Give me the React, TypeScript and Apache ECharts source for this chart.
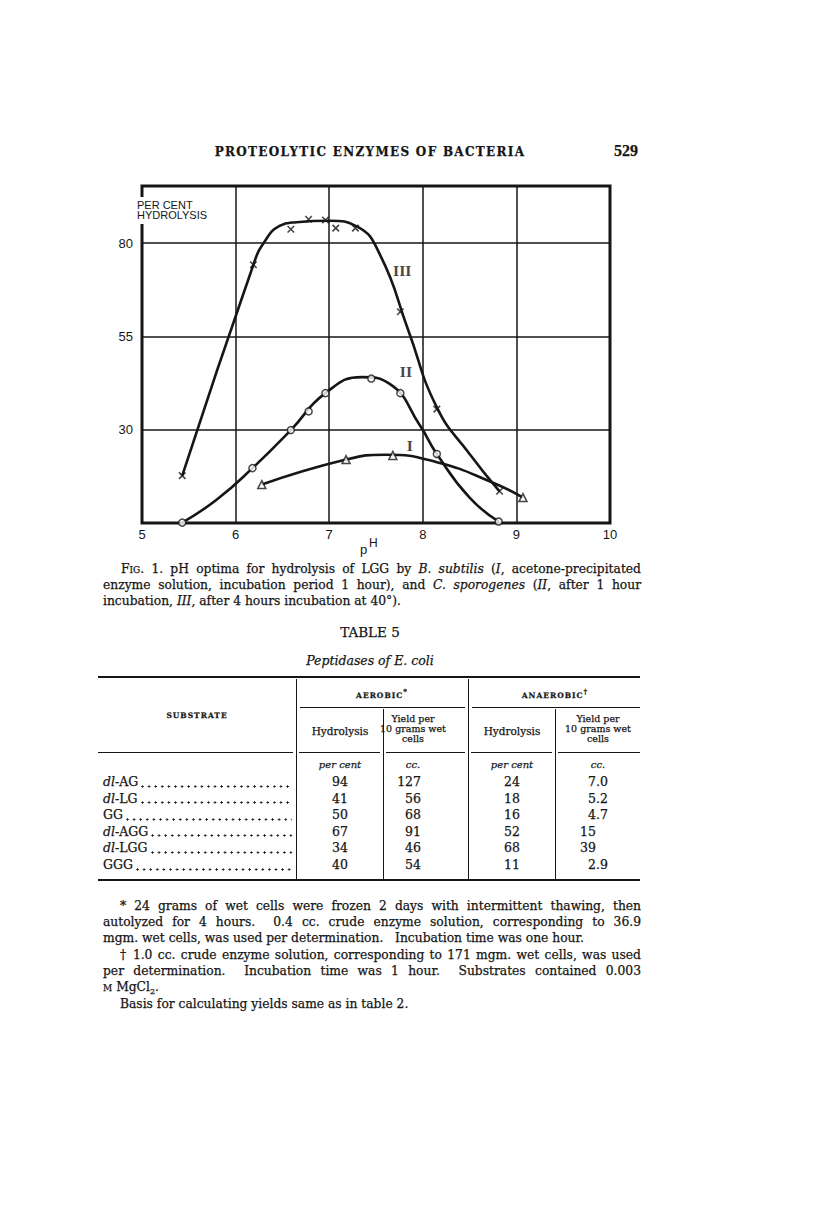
import React, { useEffect, useRef } from "react";
import * as echarts from "echarts";

// ---------- chart data ----------
const phTicks = [5, 6, 7, 8, 9, 10];
const hydrolysisTickLabels = [30, 55, 80];

// Curve III (C. sporogenes, 4 h) – drawn curve and observed points (x)
const curveIII = [
  [5.43, 17.7], [6.19, 74.2], [6.3, 80.0], [6.47, 84.6], [6.65, 85.6], [7.0, 86.0],
  [7.3, 84.4], [7.55, 76.5], [7.84, 57.0], [8.15, 36.0], [8.5, 23.5], [8.82, 13.5],
];
const pointsIII = [
  [5.43, 17.7], [6.19, 74.2], [6.59, 83.7], [6.78, 86.4], [6.96, 86.2], [7.07, 84.0],
  [7.28, 84.0], [7.76, 61.6], [8.15, 35.5], [8.82, 13.5],
];

// Curve II (C. sporogenes, 1 h) – circles
const curveII = [
  [5.43, 5.1], [5.8, 11.3], [6.18, 19.7], [6.59, 29.9], [6.96, 39.8], [7.35, 44.1],
  [7.65, 42.2], [7.97, 31.1], [8.15, 23.5], [8.5, 11.8], [8.81, 5.4],
];
const pointsII = [
  [5.43, 5.1], [6.18, 19.7], [6.59, 29.9], [6.78, 34.9], [6.96, 39.8], [7.45, 43.7],
  [7.76, 39.8], [8.15, 23.5], [8.81, 5.4],
];

// Curve I (B. subtilis) – triangles
const curveI = [
  [6.28, 15.3], [7.18, 22.0], [7.6, 23.3], [8.15, 21.3], [8.75, 15.8], [9.07, 11.8],
];
const pointsI = [[6.28, 15.3], [7.18, 22.0], [7.68, 23.1], [9.07, 11.8]];

const curveLabels = [
  { name: "III", value: [7.78, 72.4] },
  { name: "II", value: [7.82, 45.4] },
  { name: "I", value: [7.86, 25.6] },
];

// ---------- table data ----------
const substratePrefix = ["dl-", "dl-", "", "dl-", "dl-", ""];
const substrateName = ["AG", "LG", "GG", "AGG", "LGG", "GGG"];
const aerobicHydrolysis = ["94", "41", "50", "67", "34", "40"];
const aerobicYield = ["127", "56", "68", "91", "46", "54"];
const anaerobicHydrolysis = ["24", "18", "16", "52", "68", "11"];
const anaerobicYield = ["7.0", "5.2", "4.7", "15", "39", "2.9"];

const SERIF = '"DejaVu Serif", "Liberation Serif", serif';
const TIMES = '"Liberation Serif", "DejaVu Serif", serif';
const SANS = '"Liberation Sans", "DejaVu Sans", sans-serif';
const INK = "#161616";
const STROKE = "0.25px #161616";

const CHART_LEFT = 90;
const CHART_TOP = 175;

function Chart() {
  const ref = useRef<HTMLDivElement>(null);
  useEffect(() => {
    if (!ref.current) return;
    const chart = echarts.init(ref.current, undefined, { renderer: "svg" });
    const lineBase = {
      type: "line",
      smooth: 0.5,
      showSymbol: false,
      lineStyle: { color: INK, width: 2.6 },
      z: 3,
      silent: true,
    };
    const markerBase = {
      type: "scatter",
      z: 5,
      silent: true,
      itemStyle: { color: "#fff", borderColor: INK, borderWidth: 1.5 },
    };
    chart.setOption({
      animation: false,
      grid: {
        left: 52,
        top: 11,
        width: 468,
        height: 337,
        show: true,
        borderColor: INK,
        borderWidth: 3,
      },
      xAxis: {
        type: "value",
        min: 5,
        max: 10,
        interval: 1,
        axisLine: { show: false },
        axisTick: { show: false },
        splitLine: { show: true, lineStyle: { color: INK, width: 1.5 } },
        axisLabel: {
          color: INK,
          fontFamily: SANS,
          fontSize: 13,
          margin: 5,
          formatter: (v: number) => (phTicks.includes(v) ? String(v) : ""),
        },
      },
      yAxis: {
        type: "value",
        min: 5,
        max: 95.3,
        interval: 25,
        axisLine: { show: false },
        axisTick: { show: false },
        splitLine: { show: true, lineStyle: { color: INK, width: 1.5 } },
        axisLabel: {
          color: INK,
          fontFamily: SANS,
          fontSize: 13,
          margin: 9,
          formatter: (v: number) =>
            hydrolysisTickLabels.includes(Math.round(v)) ? String(Math.round(v)) : "",
        },
      },
      series: [
        { ...lineBase, name: "III", data: curveIII },
        { ...lineBase, name: "II", data: curveII },
        { ...lineBase, name: "I", data: curveI },
        {
          ...markerBase,
          name: "III points",
          data: pointsIII,
          symbol: "path://M0 0L10 10M10 0L0 10",
          symbolSize: 6.5,
          itemStyle: { color: "none", borderColor: INK, borderWidth: 1.6 },
        },
        { ...markerBase, name: "II points", data: pointsII, symbol: "circle", symbolSize: 7 },
        { ...markerBase, name: "I points", data: pointsI, symbol: "triangle", symbolSize: 8 },
        {
          type: "scatter",
          name: "labels",
          data: curveLabels,
          symbolSize: 0,
          silent: true,
          z: 6,
          label: {
            show: true,
            position: "inside",
            formatter: (p: any) => p.name,
            color: INK,
            fontFamily: SERIF,
            fontSize: 13,
            fontWeight: "bold",
          },
        },
      ],
      graphic: [
        {
          type: "text",
          left: 46,
          top: 22,
          z: 100,
          style: {
            text: "PER CENT\nHYDROLYSIS",
            fontFamily: SANS,
            fontSize: 11,
            lineHeight: 10,
            fill: INK,
            backgroundColor: "#fff",
            padding: [3, 1, 4, 1],
          },
        },
        {
          type: "text",
          x: 270,
          y: 374,
          z: 100,
          style: { text: "p", fontFamily: SANS, fontSize: 13, fill: INK, verticalAlign: "middle" },
        },
        {
          type: "text",
          x: 279,
          y: 368,
          z: 100,
          style: { text: "H", fontFamily: SANS, fontSize: 12, fill: INK, verticalAlign: "middle" },
        },
      ],
    });
    return () => chart.dispose();
  }, []);
  return (
    <div
      ref={ref}
      style={{ position: "absolute", left: CHART_LEFT, top: CHART_TOP, width: 560, height: 390 }}
    />
  );
}

type TP = {
  x: number;
  y: number;
  w?: number;
  align?: "left" | "center" | "right" | "justify";
  size?: number;
  lh?: number;
  style?: React.CSSProperties;
  children?: React.ReactNode;
};

function T({ x, y, w, align = "left", size = 12.3, lh = 16, style, children }: TP) {
  let left = x;
  if (align === "center" && w) left = x - w / 2;
  if (align === "right" && w) left = x - w;
  const s: React.CSSProperties = {
    position: "absolute",
    left,
    top: y - lh / 2,
    width: w,
    fontFamily: SERIF,
    fontSize: size,
    lineHeight: lh + "px",
    color: INK,
    whiteSpace: "nowrap",
    WebkitTextStroke: STROKE,
    textAlign: align === "justify" ? "justify" : align,
    ...(align === "justify" ? { textAlignLast: "justify" } : {}),
    ...style,
  };
  return <div style={s}>{children}</div>;
}

function HLine({ x1, x2, y, h = 1 }: { x1: number; x2: number; y: number; h?: number }) {
  return (
    <div
      style={{ position: "absolute", left: x1, top: y - h / 2, width: x2 - x1, height: h, background: INK }}
    />
  );
}
function VLine({ x, y1, y2, w = 1 }: { x: number; y1: number; y2: number; w?: number }) {
  return (
    <div
      style={{ position: "absolute", left: x - w / 2, top: y1, width: w, height: y2 - y1, background: INK }}
    />
  );
}

const I = ({ children }: { children: React.ReactNode }) => <i>{children}</i>;

export default function App() {
  const rowY = [782, 798.6, 815.2, 831.8, 848.4, 865];
  return (
    <div
      style={{
        position: "absolute",
        left: 0,
        top: 0,
        width: 816,
        height: 1230,
        background: "#fff",
        overflow: "hidden",
      }}
    >
      {/* running head */}
      <T x={370} y={152} w={360} align="center" size={12} style={{ fontWeight: "bold", letterSpacing: 1.3 }}>
        PROTEOLYTIC ENZYMES OF BACTERIA
      </T>
      <T x={638} y={151} w={40} align="right" size={16} style={{ fontWeight: "bold", fontFamily: TIMES }}>
        529
      </T>

      <Chart />

      {/* caption */}
      <T x={121} y={569} w={520} align="justify">
        <span style={{ fontVariant: "small-caps" }}>Fig.</span> 1. pH optima for hydrolysis of LGG by{" "}
        <I>B. subtilis</I> (<I>I</I>, acetone-precipitated
      </T>
      <T x={103} y={585} w={538} align="justify">
        enzyme solution, incubation period 1 hour), and <I>C. sporogenes</I> (<I>II</I>, after 1 hour
      </T>
      <T x={103} y={601}>
        incubation, <I>III</I>, after 4 hours incubation at 40°).
      </T>

      {/* table title */}
      <T x={370} y={632} w={200} align="center" size={13.5}>
        TABLE 5
      </T>
      <T x={370} y={661} w={260} align="center" size={12.5}>
        <I>Peptidases of E. coli</I>
      </T>

      {/* table rules */}
      <HLine x1={98} x2={640} y={677} h={2} />
      <VLine x={296} y1={679} y2={879} />
      <VLine x={468} y1={679} y2={879} />
      <VLine x={383} y1={709} y2={879} />
      <VLine x={555} y1={709} y2={879} />
      <HLine x1={300} x2={465} y={707} />
      <HLine x1={472} x2={640} y={707} />
      <HLine x1={98} x2={293} y={752} />
      <HLine x1={299} x2={380} y={752} />
      <HLine x1={386} x2={465} y={752} />
      <HLine x1={471} x2={552} y={752} />
      <HLine x1={558} x2={640} y={752} />
      <HLine x1={98} x2={640} y={880} h={2} />

      {/* table headers */}
      <T x={382} y={692} w={160} align="center" size={7.5} style={{ fontWeight: "bold", letterSpacing: 1 }}>
        AEROBIC<sup style={{ fontSize: 7 }}>*</sup>
      </T>
      <T x={555} y={692} w={160} align="center" size={7.5} style={{ fontWeight: "bold", letterSpacing: 1 }}>
        ANAEROBIC<sup style={{ fontSize: 7 }}>†</sup>
      </T>
      <T x={197} y={716} w={190} align="center" size={7.5} style={{ fontWeight: "bold", letterSpacing: 1 }}>
        SUBSTRATE
      </T>
      <T x={340} y={731} w={84} align="center" size={10.5}>
        Hydrolysis
      </T>
      <T x={512} y={731} w={84} align="center" size={10.5}>
        Hydrolysis
      </T>
      {[413, 598].map((cx) => (
        <div key={cx}>
          <T x={cx} y={719} w={90} align="center" size={9.5} lh={10}>
            Yield per
          </T>
          <T x={cx} y={729} w={90} align="center" size={9.5} lh={10}>
            10 grams wet
          </T>
          <T x={cx} y={739} w={90} align="center" size={9.5} lh={10}>
            cells
          </T>
        </div>
      ))}
      <T x={340} y={765} w={84} align="center" size={10}>
        <I>per cent</I>
      </T>
      <T x={413} y={765} w={84} align="center" size={10}>
        <I>cc.</I>
      </T>
      <T x={512} y={765} w={84} align="center" size={10}>
        <I>per cent</I>
      </T>
      <T x={598} y={765} w={84} align="center" size={10}>
        <I>cc.</I>
      </T>

      {/* table body */}
      {rowY.map((y, i) => {
        const parts = anaerobicYield[i].split(".");
        return (
          <div key={i}>
            <div
              style={{
                position: "absolute",
                left: 103,
                top: y - 8,
                width: 189,
                height: 16,
                display: "flex",
                fontFamily: SERIF,
                fontSize: 12.5,
                lineHeight: "16px",
                color: INK,
                whiteSpace: "nowrap",
                WebkitTextStroke: STROKE,
              }}
            >
              <span>
                {substratePrefix[i] ? <I>dl</I> : null}
                {substratePrefix[i] ? "-" : ""}
                {substrateName[i]}
              </span>
              <span
                style={{
                  flex: 1,
                  marginLeft: 3,
                  backgroundImage: `radial-gradient(circle at 1.5px 1.5px, ${INK} 0.9px, transparent 1.3px)`,
                  backgroundSize: "6.6px 3px",
                  backgroundRepeat: "repeat-x",
                  backgroundPosition: "0 10.5px",
                }}
              />
            </div>
            <T x={340} y={y} w={40} align="center" size={12.5}>
              {aerobicHydrolysis[i]}
            </T>
            <T x={421} y={y} w={40} align="right" size={12.5}>
              {aerobicYield[i]}
            </T>
            <T x={512} y={y} w={40} align="center" size={12.5}>
              {anaerobicHydrolysis[i]}
            </T>
            <T x={596} y={y} w={30} align="right" size={12.5}>
              {parts[0]}
            </T>
            {parts[1] ? (
              <T x={596} y={y} size={12.5}>
                .{parts[1]}
              </T>
            ) : null}
          </div>
        );
      })}

      {/* footnotes */}
      <T x={120} y={906} w={521} align="justify">
        * 24 grams of wet cells were frozen 2 days with intermittent thawing, then
      </T>
      <T x={103} y={922} w={538} align="justify">
        autolyzed for 4 hours.&nbsp; 0.4 cc. crude enzyme solution, corresponding to 36.9
      </T>
      <T x={103} y={938}>mgm. wet cells, was used per determination.&nbsp;&nbsp; Incubation time was one hour.</T>
      <T x={120} y={955} w={521} align="justify">
        † 1.0 cc. crude enzyme solution, corresponding to 171 mgm. wet cells, was used
      </T>
      <T x={103} y={971} w={538} align="justify">
        per determination.&nbsp; Incubation time was 1 hour.&nbsp; Substrates contained 0.003
      </T>
      <T x={103} y={987}>
        <span style={{ fontVariant: "small-caps" }}>m</span> MgCl<sub style={{ fontSize: 8 }}>2</sub>.
      </T>
      <T x={120} y={1004}>Basis for calculating yields same as in table 2.</T>
    </div>
  );
}
